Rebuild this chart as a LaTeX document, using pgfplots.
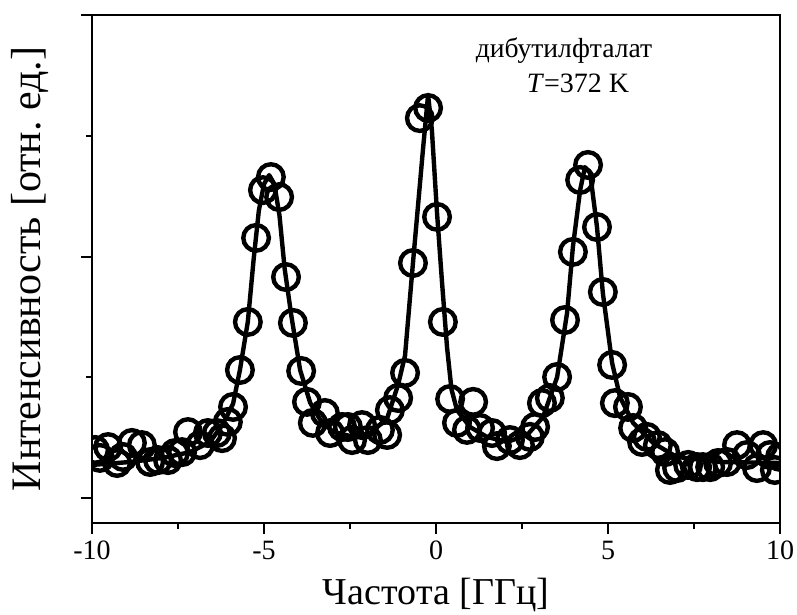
\documentclass[border=0pt]{standalone}
\usepackage{fontspec}
\setmainfont{Liberation Serif}
\usepackage{pgfplots}
\pgfplotsset{compat=1.18}
\frenchspacing

\pgfplotstableread{
x y
-9.91 0.199
-9.77 0.166
-9.53 0.211
-9.27 0.145
-9.10 0.170
-8.84 0.228
-8.55 0.219
-8.31 0.149
-8.08 0.157
-7.79 0.157
-7.59 0.186
-7.38 0.190
-7.21 0.273
-6.86 0.219
-6.63 0.269
-6.37 0.269
-6.22 0.248
-6.05 0.315
-5.90 0.377
-5.70 0.530
-5.47 0.729
-5.23 1.077
-5.03 1.275
-4.80 1.329
-4.56 1.246
-4.36 0.915
-4.16 0.725
-3.92 0.526
-3.75 0.398
-3.58 0.311
-3.23 0.352
-3.08 0.269
-2.73 0.294
-2.56 0.294
-2.44 0.240
-2.15 0.302
-1.98 0.240
-1.63 0.282
-1.42 0.261
-1.34 0.364
-1.10 0.414
-0.90 0.518
-0.67 0.973
-0.47 1.573
-0.23 1.615
0.03 1.164
0.20 0.729
0.41 0.410
0.61 0.311
0.90 0.282
1.08 0.398
1.28 0.290
1.63 0.269
1.77 0.215
2.15 0.240
2.44 0.219
2.73 0.253
2.88 0.294
3.08 0.393
3.31 0.414
3.52 0.501
3.75 0.737
3.98 1.019
4.19 1.317
4.42 1.379
4.68 1.122
4.85 0.853
5.12 0.551
5.20 0.393
5.58 0.377
5.73 0.290
5.99 0.232
6.13 0.253
6.45 0.219
6.66 0.190
6.80 0.116
7.01 0.124
7.33 0.137
7.59 0.128
7.76 0.128
7.97 0.128
8.20 0.145
8.46 0.149
8.75 0.219
9.04 0.178
9.33 0.124
9.51 0.219
9.71 0.178
9.85 0.116
10.00 0.170
}\measured

\pgfplotstableread{
x y
-10.00 0.137
-8.90 0.149
-7.94 0.166
-7.15 0.190
-6.57 0.232
-6.20 0.305
-5.90 0.390
-5.70 0.530
-5.47 0.730
-5.30 0.990
-5.15 1.190
-5.00 1.300
-4.85 1.337
-4.70 1.300
-4.55 1.170
-4.40 0.950
-4.20 0.750
-3.95 0.530
-3.66 0.395
-3.37 0.325
-3.00 0.275
-2.40 0.253
-1.90 0.270
-1.42 0.330
-1.10 0.470
-0.90 0.590
-0.67 0.973
-0.38 1.441
-0.23 1.669
-0.12 1.524
0.03 1.180
0.17 0.903
0.32 0.625
0.45 0.450
0.61 0.364
0.99 0.294
1.48 0.253
2.06 0.232
2.65 0.261
3.11 0.335
3.52 0.500
3.81 0.766
3.98 1.040
4.19 1.275
4.33 1.370
4.48 1.346
4.68 1.122
4.85 0.849
5.12 0.559
5.35 0.418
5.73 0.311
6.31 0.228
7.00 0.170
8.26 0.149
10.00 0.145
}\fit

\begin{document}
\begin{tikzpicture}
\begin{axis}[
    width=344pt, height=254pt, scale only axis,
    xmin=-10, xmax=10, ymin=-0.1035, ymax=2,
    clip marker paths=true,
    axis line style={line width=1pt},
    tick pos=left, tick align=outside,
    xtick={-10,-5,0,5,10}, xticklabels={-10,-5,0,5,10},
    minor xtick={-7.5,-2.5,2.5,7.5},
    ytick={0,1,2}, yticklabels={}, minor ytick={0.5,1.5},
    major tick length=5.5pt, minor tick length=3pt,
    tick style={black, line width=1pt},
    ticklabel style={font=\fontsize{14}{16}\selectfont},
    xlabel={Частота [ГГц]},
    ylabel={Интенсивность [отн. ед.]},
    xlabel style={font=\fontsize{19}{22}\selectfont,
        at={([yshift=-36pt]rel axis cs:0.5,0)}, anchor=center},
    ylabel style={font=\fontsize{21}{24}\selectfont,
        at={([xshift=-31pt]rel axis cs:0,0.5)}, anchor=center},
]
\addplot[black, line width=2.2pt, line join=round] table {\fit};
\addplot[only marks, mark=o, mark size=6.4pt, black, line width=2.2pt] table {\measured};
\node[anchor=base, font=\fontsize{13.8}{16}\selectfont] at (axis cs:3.72,1.826) {дибутилфталат};
\node[anchor=base, font=\fontsize{14}{16}\selectfont] at (axis cs:4.13,1.681) {\textit{T}=372 K};
\end{axis}
\pgfresetboundingbox
\path ([shift={(-46pt,-46pt)}]current axis.south west) rectangle ([shift={(8.5pt,7.5pt)}]current axis.north east);
\end{tikzpicture}
\end{document}
